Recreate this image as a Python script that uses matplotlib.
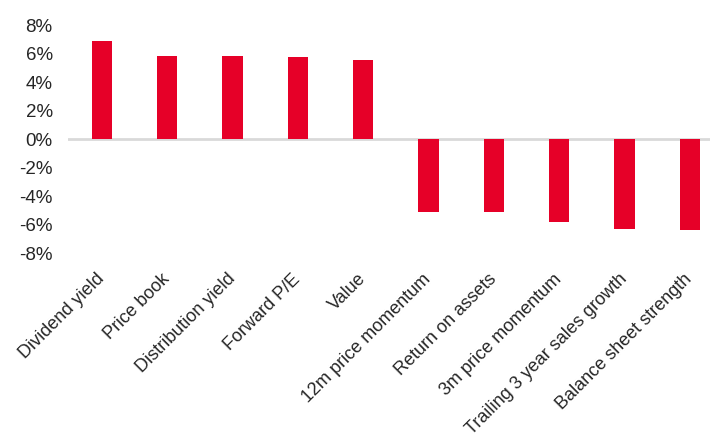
import matplotlib.pyplot as plt
from matplotlib.ticker import FuncFormatter

# Factor returns
factors = ["Dividend yield", "Price book", "Distribution yield", "Forward P/E", "Value",
           "12m price momentum", "Return on assets", "3m price momentum",
           "Trailing 3 year sales growth", "Balance sheet strength"]
returns = [6.9, 5.85, 5.85, 5.78, 5.55, -5.15, -5.15, -5.8, -6.35, -6.4]

plt.rcParams["font.family"] = ["Liberation Sans", "DejaVu Sans"]

fig = plt.figure(figsize=(7.1, 4.38), dpi=100)
ax = fig.add_axes([68 / 710, 1 - 253 / 438, 642 / 710, 228 / 438])

x = list(range(len(factors)))
ax.bar(x, returns, width=0.31, color="#E60028", zorder=2)
ax.axhline(0, color="#D9D9D9", lw=2, zorder=1)

ax.set_xlim(-0.52, 9.31)
ax.set_ylim(-8, 8)
ax.set_yticks(range(-8, 9, 2))
ax.yaxis.set_major_formatter(FuncFormatter(lambda v, p: f"{v:.0f}%"))
ax.set_xticks(x)
ax.set_xticklabels(factors, rotation=45, ha="right", va="center", rotation_mode="anchor")

ax.tick_params(axis="y", length=0, pad=11, labelsize=13.5, labelcolor="#262626")
ax.tick_params(axis="x", length=0, pad=17, labelsize=13, labelcolor="#262626")
for s in ax.spines.values():
    s.set_visible(False)

plt.savefig("out.png", dpi=100)
